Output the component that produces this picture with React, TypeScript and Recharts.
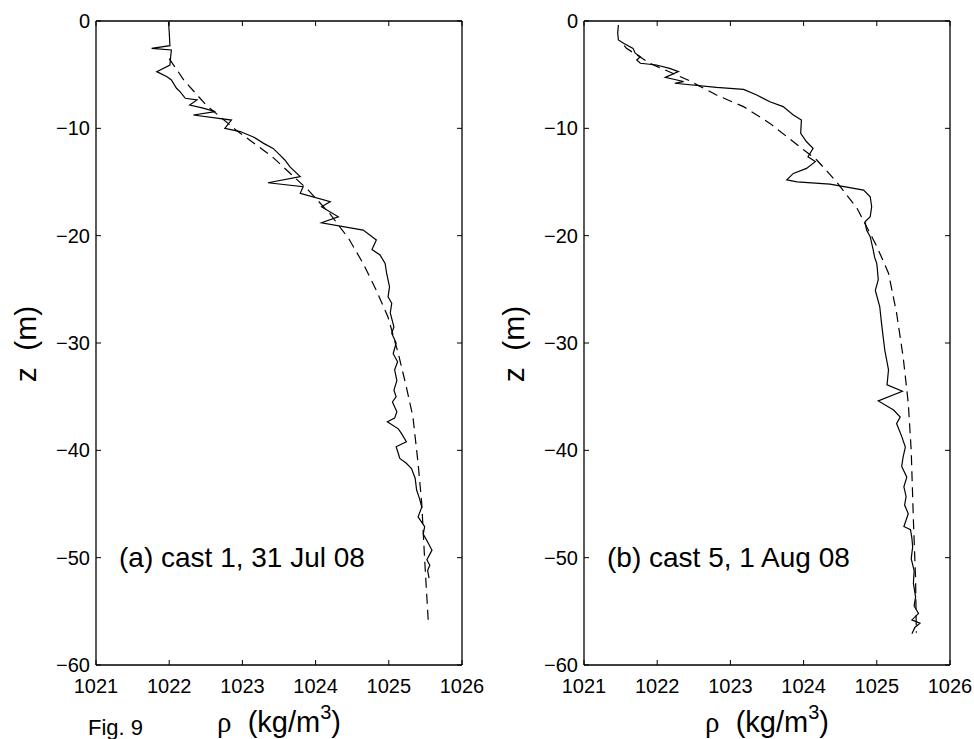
import { LineChart, Line, XAxis, YAxis } from 'recharts';

const rhoTicks = [1021, 1022, 1023, 1024, 1025, 1026];
const zTicks = [-60, -50, -40, -30, -20, -10, 0];

// cast 1, 31 Jul 08 - measured profile
const cast1Z = [
  -0.1, -1.0, -2.3, -2.55, -2.7, -3.3, -4.1, -4.72, -5.2, -5.5, -6.27, -6.6, -7.2, -7.36, -7.83,
  -8.1, -8.45, -8.76, -9.23, -10.0, -10.3, -10.8, -11.4, -11.87, -12.4, -12.95, -13.6, -14.5,
  -15.07, -15.44, -16.06, -16.84, -17.3, -18.24, -18.8, -19.48, -20.4, -21.3, -21.8, -22.58,
  -23.5, -24.75, -25.7, -26.3, -27.2, -28.5, -29.1, -30.0, -31.0, -31.75, -32.5, -33.5, -34.4,
  -35.0, -35.5, -36.4, -37.0, -37.34, -38.0, -38.4, -39.2, -39.67, -40.3, -40.75, -41.2, -41.7,
  -42.6, -43.7, -44.5, -45.3, -46.2, -47.1, -47.8, -48.4, -49.3, -50.2, -50.7, -51.2, -51.9,
];
const cast1Rho = [
  1021.99, 1022.0, 1022.01, 1021.76, 1022.03, 1022.02, 1022.01, 1021.83, 1021.97, 1022.03, 1022.1,
  1022.15, 1022.22, 1022.38, 1022.28, 1022.45, 1022.63, 1022.33, 1022.85, 1022.76, 1022.97,
  1023.15, 1023.29, 1023.42, 1023.5, 1023.58, 1023.65, 1023.79, 1023.35, 1023.83, 1023.79,
  1024.2, 1024.08, 1024.31, 1024.08, 1024.65, 1024.83, 1024.77, 1024.88, 1024.95, 1024.97,
  1025.01, 1024.99, 1025.04, 1025.02, 1025.07, 1025.04, 1025.1, 1025.06, 1025.12, 1025.08,
  1025.11, 1025.07, 1025.1, 1025.05, 1025.11, 1025.08, 1024.98, 1025.13, 1025.17, 1025.24,
  1025.1, 1025.13, 1025.15, 1025.24, 1025.31, 1025.36, 1025.38, 1025.42, 1025.45, 1025.4,
  1025.49, 1025.47, 1025.52, 1025.59, 1025.52, 1025.56, 1025.53, 1025.55,
];

// cast 1 - fitted curve (dashed)
const fit1Z = [-3.5, -5.5, -7.8, -10.2, -12.6, -15.75, -18.0, -20.25, -22.6, -25.1, -27.6, -31.0, -34.1, -36.9, -41.2, -44.95, -50.2, -56.0];
const fit1Rho = [1022.0, 1022.2, 1022.5, 1022.92, 1023.4, 1023.9, 1024.2, 1024.45, 1024.65, 1024.83, 1024.99, 1025.13, 1025.24, 1025.33, 1025.4, 1025.45, 1025.49, 1025.54];

// cast 5, 1 Aug 08 - measured profile
const cast5Z = [
  -0.37, -1.15, -1.77, -2.08, -2.55, -3.0, -3.33, -3.63, -3.94, -4.1, -4.41, -4.72, -5.25, -5.5,
  -5.65, -5.8, -6.18, -6.37, -6.9, -7.52, -7.98, -8.76, -9.23, -10.47, -11.25, -11.87, -12.65,
  -13.1, -13.73, -14.2, -14.8, -14.98, -15.2, -15.75, -16.37, -17.3, -18.24, -18.7, -19.48,
  -20.1, -21.3, -22.0, -22.6, -23.3, -24.1, -25.1, -26.6, -28.5, -30.7, -32.5, -33.9, -34.5,
  -35.4, -36.25, -36.9, -37.5, -38.7, -39.7, -40.6, -41.5, -42.5, -43.4, -44.3, -45.1, -45.9,
  -47.1, -47.4, -48.2, -49.0, -50.1, -51.2, -52.4, -53.65, -54.5, -55.2, -55.8, -56.1, -56.5,
  -57.1,
];
const cast5Rho = [
  1021.47, 1021.46, 1021.47, 1021.54, 1021.67, 1021.7, 1021.77, 1021.72, 1021.77, 1021.99,
  1022.17, 1022.29, 1022.11, 1022.27, 1022.36, 1022.24, 1022.81, 1023.18, 1023.36, 1023.54,
  1023.72, 1023.86, 1023.97, 1023.96, 1024.04, 1024.13, 1024.06, 1024.16, 1024.04, 1023.86,
  1023.77, 1023.91, 1024.36, 1024.82, 1024.91, 1024.93, 1024.91, 1024.84, 1024.86, 1024.91,
  1024.95, 1024.97, 1025.0, 1025.01, 1025.02, 1024.98, 1025.04, 1025.07, 1025.11, 1025.16,
  1025.14, 1025.35, 1025.02, 1025.23, 1025.32, 1025.27, 1025.34, 1025.39, 1025.36, 1025.34,
  1025.41, 1025.37, 1025.4, 1025.38, 1025.43, 1025.37, 1025.46, 1025.48, 1025.49, 1025.47,
  1025.51, 1025.5, 1025.53, 1025.51, 1025.57, 1025.48, 1025.59, 1025.52, 1025.48,
];

// cast 5 - fitted curve (dashed)
const fit5Z = [-2.3, -2.55, -3.94, -5.5, -6.9, -7.98, -9.54, -11.25, -12.95, -14.98, -17.45, -21.0, -23.5, -27.2, -31.3, -35.6, -40.0, -46.5, -52.0, -57.0];
const fit5Rho = [1021.55, 1021.58, 1021.9, 1022.42, 1022.81, 1023.18, 1023.54, 1023.86, 1024.18, 1024.45, 1024.73, 1025.0, 1025.16, 1025.27, 1025.36, 1025.43, 1025.47, 1025.5, 1025.53, 1025.54];

const toPoints = (rho: number[], z: number[]) => rho.map((r, i) => ({ rho: r, z: z[i] }));

const fmtZ = (v: number) => (v < 0 ? '\u2212' + Math.abs(v) : String(v));

const sans = '"Liberation Sans", Arial, Helvetica, sans-serif';
const tickStyle = { fontSize: 20, fill: '#000', fontFamily: sans };
const axisStroke = { stroke: '#000', strokeWidth: 1.3 };

type Pt = { rho: number; z: number };

function Panel({ profile, fit, width, right }: { profile: Pt[]; fit: Pt[]; width: number; right: number }) {
  return (
    <LineChart width={width} height={739} margin={{ top: 20, right, bottom: 44, left: 36 }}>
      <XAxis
        xAxisId="b"
        type="number"
        dataKey="rho"
        domain={[1021, 1026]}
        ticks={rhoTicks}
        interval={0}
        allowDataOverflow
        orientation="bottom"
        height={30}
        tickSize={-5}
        tickMargin={19}
        tick={tickStyle}
        axisLine={axisStroke}
        tickLine={{ stroke: '#000' }}
      />
      <XAxis
        xAxisId="t"
        type="number"
        dataKey="rho"
        domain={[1021, 1026]}
        ticks={rhoTicks}
        interval={0}
        allowDataOverflow
        orientation="top"
        height={1}
        tickSize={-5}
        tickFormatter={() => ''}
        axisLine={axisStroke}
        tickLine={{ stroke: '#000' }}
      />
      <YAxis
        yAxisId="l"
        type="number"
        domain={[-60, 0]}
        ticks={zTicks}
        interval={0}
        allowDataOverflow
        width={60}
        tickSize={-5}
        tickMargin={11}
        tickFormatter={fmtZ}
        tick={tickStyle}
        axisLine={axisStroke}
        tickLine={{ stroke: '#000' }}
      />
      <YAxis
        yAxisId="r"
        type="number"
        orientation="right"
        domain={[-60, 0]}
        ticks={zTicks}
        interval={0}
        allowDataOverflow
        width={1}
        tickSize={-5}
        tickFormatter={() => ''}
        axisLine={axisStroke}
        tickLine={{ stroke: '#000' }}
      />
      <Line
        xAxisId="t"
        yAxisId="r"
        data={fit}
        dataKey="z"
        type="linear"
        stroke="#000"
        strokeWidth={1.2}
        strokeDasharray="10 6"
        dot={false}
        isAnimationActive={false}
      />
      <Line
        xAxisId="b"
        yAxisId="l"
        data={profile}
        dataKey="z"
        type="linear"
        stroke="#000"
        strokeWidth={1.2}
        dot={false}
        isAnimationActive={false}
      />
    </LineChart>
  );
}

function RhoLabel({ cx }: { cx: number }) {
  return (
    <text x={cx} y={732} textAnchor="middle" fontSize={29} fontFamily={sans} fill="#000">
      <tspan fontFamily='"Liberation Serif", "DejaVu Serif", serif'>ρ</tspan>
      <tspan>{'\u00a0\u00a0(kg/m'}</tspan>
      <tspan dy={-13} fontSize={20}>3</tspan>
      <tspan dy={13}>)</tspan>
    </text>
  );
}

function ZLabel({ x }: { x: number }) {
  return (
    <text
      x={0}
      y={0}
      transform={`translate(${x} 344) rotate(-90)`}
      textAnchor="middle"
      fontSize={30}
      fontFamily={sans}
      fill="#000"
    >
      {'z\u00a0\u00a0(m)'}
    </text>
  );
}

export default function App() {
  return (
    <div style={{ position: 'absolute', left: 0, top: 0, width: 974, height: 739, background: '#fff' }}>
      <div style={{ position: 'absolute', left: 0, top: 0 }}>
        <Panel profile={toPoints(cast1Rho, cast1Z)} fit={toPoints(fit1Rho, fit1Z)} width={490} right={27} />
      </div>
      <div style={{ position: 'absolute', left: 488, top: 0 }}>
        <Panel profile={toPoints(cast5Rho, cast5Z)} fit={toPoints(fit5Rho, fit5Z)} width={486} right={23} />
      </div>
      <svg
        width={974}
        height={739}
        style={{ position: 'absolute', left: 0, top: 0, pointerEvents: 'none' }}
      >
        <text x={119} y={567} fontSize={28} fontFamily={sans} fill="#000">
          (a) cast 1, 31 Jul 08
        </text>
        <text x={607} y={567} fontSize={28} fontFamily={sans} fill="#000">
          (b) cast 5, 1 Aug 08
        </text>
        <ZLabel x={36} />
        <ZLabel x={524} />
        <RhoLabel cx={279} />
        <RhoLabel cx={767} />
        <text x={88} y={735} fontSize={22} fontFamily={sans} fill="#000">
          Fig. 9
        </text>
      </svg>
    </div>
  );
}
